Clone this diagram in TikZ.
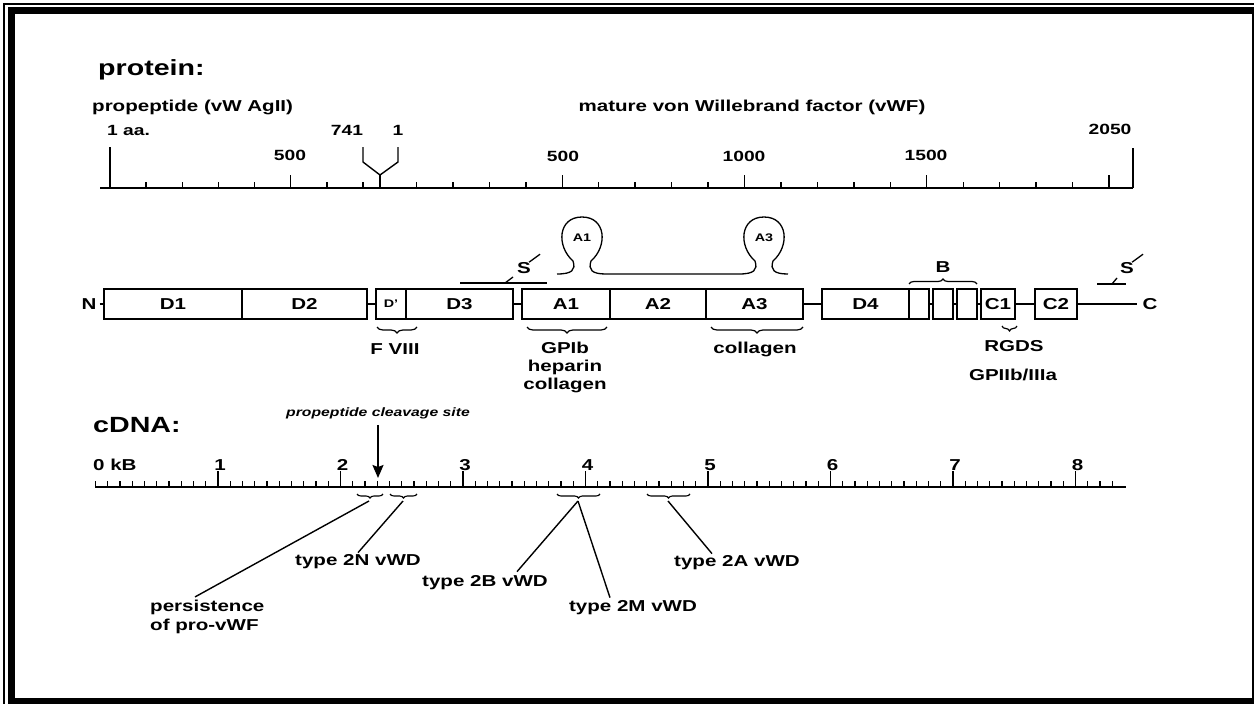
\documentclass[tikz,border=0pt]{standalone}
\usepackage{fontspec}
\setmainfont{Liberation Sans}[FakeStretch=1.3]
\usetikzlibrary{arrows.meta,decorations.pathreplacing}

\newcommand\headfont{\fontsize{22}{26}\selectfont\bfseries}
\newcommand\lblfont{\fontsize{15.8}{18}\selectfont\bfseries}
\newcommand\numfont{\fontsize{14.8}{17}\selectfont\bfseries}
\newcommand\loopfont{\fontsize{11}{13}\selectfont\bfseries}
\newcommand\sitefont{\fontsize{12.1}{14}\selectfont\bfseries\itshape}

\begin{document}
\begin{tikzpicture}[x=1pt, y=-1pt, >=stealth,
    dom/.style={rectangle, draw=black, line width=1.3pt, minimum height=30pt,
                inner sep=0pt, font=\lblfont},
    lab/.style={inner sep=0pt, font=\lblfont},
    num/.style={inner sep=0pt, font=\numfont},
    head/.style={inner sep=0pt, anchor=west, font=\headfont},
    ruler/.style={line width=1.8pt},
    tick/.style={line width=1.4pt},
    lnk/.style={line width=1.3pt},
    lead/.style={line width=1.4pt},
    ubrace/.style={line width=1.2pt, decorate, decoration={brace, amplitude=5pt}},
    dbrace/.style={line width=1.2pt, decorate, decoration={brace, mirror, amplitude=6pt}},
    wbrace/.style={line width=1.1pt, decorate, decoration={brace, mirror, amplitude=4pt}}]

    \useasboundingbox (0,0) rectangle (1254,704);
    \clip (0,0) rectangle (1254,704);

    % frame
    \draw [line width=1.6pt] (4,4) rectangle (1270,720);
    \draw [line width=7pt] (11,10) rectangle (1255,701);

    % protein scale
    \node (prot)  [head] at (98,70) {protein:};
    \node (pro)   [lab, anchor=west] at (92,107) {propeptide (vW AgII)};
    \node (mat)   [lab] at (752,107) {mature von Willebrand factor (vWF)};
    \node (aa1)   [num, anchor=west] at (107,130) {1 aa.};
    \node (n741)  [num] at (347,130) {741};
    \node (m1)    [num] at (398,130) {1};
    \node (p500)  [num] at (290,155) {500};
    \node (m500)  [num] at (563,156) {500};
    \node (m1000) [num] at (744,156) {1000};
    \node (m1500) [num] at (926,155) {1500};
    \node (m2050) [num] at (1110,129) {2050};

    \draw [ruler] (100,188) -- (1133,188);
    \draw [tick] (110,147) -- (110,188);
    \foreach \k in {1,2,3,4,6,7} \draw [tick] ({110+36.14*\k},182) -- ++(0,6);
    \draw [tick] ({110+36.14*5},175) -- ++(0,13);
    \foreach \k in {1,2,3,4,6,7,8,9,11,12,13,14,16,17,18,19} \draw [tick] ({380+36.45*\k},182) -- ++(0,6);
    \foreach \k in {5,10,15,20} \draw [tick] ({380+36.45*\k},175) -- ++(0,13);
    \draw [tick] (1133,148) -- (1133,188);
    \draw [tick] (363,147) -- (363,162) -- (380,175) -- (398,162) -- (398,147);
    \draw [tick] (380,175) -- (380,188);

    % domains
    \node (nt) [lab] at (89,304) {N};
    \node (d1) [dom, minimum width=138pt] at (173,304)   {D1};
    \node (d2) [dom, minimum width=125pt] at (304.5,304) {D2};
    \node (dp) [dom, minimum width=30pt, font=\loopfont] at (391,304) {D'};
    \node (d3) [dom, minimum width=107pt] at (459.5,304) {D3};
    \node (a1) [dom, minimum width=88pt]  at (566,304)   {A1};
    \node (a2) [dom, minimum width=96pt]  at (658,304)   {A2};
    \node (a3) [dom, minimum width=97pt]  at (754.5,304) {A3};
    \node (d4) [dom, minimum width=87pt]  at (865.5,304) {D4};
    \node (b1) [dom, minimum width=20pt]  at (919,304)   {};
    \node (b2) [dom, minimum width=20pt]  at (943,304)   {};
    \node (b3) [dom, minimum width=20pt]  at (967,304)   {};
    \node (c1) [dom, minimum width=34pt]  at (998,304)   {C1};
    \node (c2) [dom, minimum width=42pt]  at (1056,304)  {C2};
    \node (ct) [lab] at (1150,304) {C};

    \draw [lnk] ([xshift=3pt]nt.east) -- (d1.west);
    \draw [lnk] (d2.east) -- (dp.west);
    \draw [lnk] (d3.east) -- (a1.west);
    \draw [lnk] (a3.east) -- (d4.west);
    \draw [lnk] (b1.east) -- (b2.west);
    \draw [lnk] (b2.east) -- (b3.west);
    \draw [lnk] (b3.east) -- (c1.west);
    \draw [lnk] (c1.east) -- (c2.west);
    \draw [lnk] (c2.east) -- ([xshift=-5pt]ct.west);

    % A1 and A3 loops
    \draw [lnk] (557,274) .. controls (572,274) and (576,270) .. (573,261)
        .. controls (556,246) and (558,217) .. (582,217)
        .. controls (606,217) and (608,246) .. (591,261)
        .. controls (588,270) and (592,274) .. (606,274) -- (739,274)
        .. controls (754,274) and (758,270) .. (755,261)
        .. controls (738,246) and (740,217) .. (764,217)
        .. controls (788,217) and (790,246) .. (773,261)
        .. controls (770,270) and (774,274) .. (788,274);
    \node (la1) [inner sep=0pt, font=\loopfont] at (582,238) {A1};
    \node (la3) [inner sep=0pt, font=\loopfont] at (764,238) {A3};

    % S bridges
    \node (s1) [lab] at (524,268) {S};
    \draw [lnk] (460,283) -- (547,283);
    \draw [lnk] (505,283) -- (513,277);
    \draw [lnk] ([xshift=-2pt]s1.north east) -- ++(11,-8);
    \node (s2) [lab] at (1127,268) {S};
    \draw [lnk] (1097,284) -- (1126,284);
    \draw [lnk] (1112,284) -- (1117,278);
    \draw [lnk] ([xshift=-2pt]s2.north east) -- ++(11,-8);

    % braces and binding sites
    \draw [ubrace] (909,284) -- (977,284);
    \node (blab) [lab] at (943,267) {B};
    \draw [dbrace] (377,327) -- (417,327);
    \draw [dbrace] (527,327) -- (607,327);
    \draw [dbrace] (711,327) -- (803,327);
    \draw [dbrace, decoration={amplitude=5pt}] (1002,326) -- (1017,326);
    \node (f8)   [lab] at (395,349) {F VIII};
    \node (gpib) [lab, align=center] at (565,367) {GPIb\\heparin\\collagen};
    \node (col)  [lab] at (755,349) {collagen};
    \node (rgds) [lab] at (1014,346) {RGDS};
    \node (gp2)  [lab] at (1013,375) {GPIIb/IIIa};

    % cDNA scale
    \node (cdna) [head] at (93,425) {cDNA:};
    \node (site) [inner sep=0pt, font=\sitefont] at (378,413) {propeptide cleavage site};
    \coordinate (cut) at (378,478);
    \draw [line width=1.8pt, -{Stealth[length=13pt, width=11pt, inset=2pt]}] ([yshift=-6pt]site.south) -- (cut);

    \draw [ruler] (95,487) -- (1126,487);
    \foreach \k in {0,...,83} \draw [tick] ({95.5+12.25*\k},481) -- ++(0,6);
    \foreach \k in {1,...,8} \draw [tick] ({95.5+122.5*\k},471) -- ++(0,16);
    \node (k0) [lab, anchor=west] at (93,465) {0 kB};
    \foreach \k in {1,...,8} \node (k\k) [lab] at ({97.5+122.5*\k},465) {\k};

    % mutation clusters
    \draw [wbrace] (357,494) -- (383,494);
    \draw [wbrace] (390,494) -- (417,494);
    \draw [wbrace] (557,494) -- (600,494);
    \draw [wbrace] (647,494) -- (690,494);
    \coordinate (w1) at (369,501);
    \coordinate (w2) at (403,501);
    \coordinate (w3) at (578,501);
    \coordinate (w4) at (668,501);

    \node (pers) [lab, anchor=west, align=left, font=\fontsize{15.8}{19}\selectfont\bfseries] at (150,617) {persistence\\of pro-vWF};
    \node (t2n) [lab] at (358,562) {type 2N vWD};
    \node (t2b) [lab] at (485,583) {type 2B vWD};
    \node (t2m) [lab] at (633,608) {type 2M vWD};
    \node (t2a) [lab] at (737,563) {type 2A vWD};

    \draw [lead] (w1) -- ([xshift=45pt, yshift=3pt]pers.north west);
    \draw [lead] (w2) -- ([yshift=2pt]t2n.north);
    \draw [lead] (w3) -- ([xshift=32pt, yshift=4pt]t2b.north);
    \draw [lead] (w3) -- ([xshift=-23pt, yshift=3pt]t2m.north);
    \draw [lead] (w4) -- ([xshift=-25pt, yshift=2pt]t2a.north);
\end{tikzpicture}
\end{document}
